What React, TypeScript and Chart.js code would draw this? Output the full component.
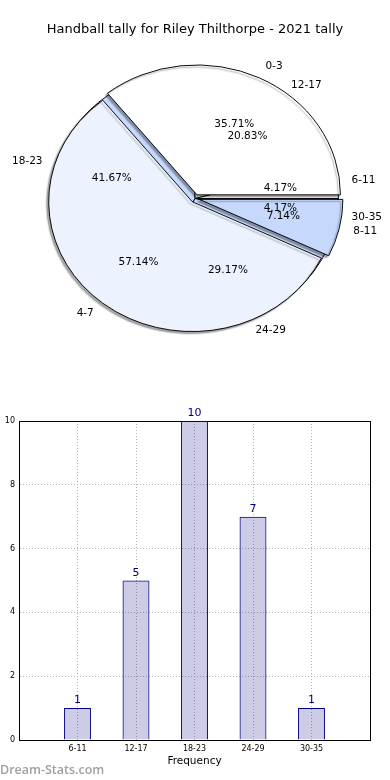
import React, { useEffect, useRef } from 'react';
import { Chart, registerables } from 'chart.js';

Chart.register(...registerables);
Chart.defaults.font.family = '"DejaVu Sans", sans-serif';

// ---------- data ----------
const TITLE = 'Handball tally for Riley Thilthorpe - 2021 tally';
const pieALabels = ['0-3', '4-7', '8-11'];
const pieAValues = [5, 8, 1];
const pieBLabels = ['6-11', '12-17', '18-23', '24-29', '30-35'];
const pieBValues = [1, 5, 10, 7, 1];
const barCategories = ['6-11', '12-17', '18-23', '24-29', '30-35'];
const barValues = [1, 5, 10, 7, 1];
const yTicks = [0, 2, 4, 6, 8, 10];
const xAxisTitle = 'Frequency';
const yAxisTitle = 'Number of Games';
const WATERMARK = 'Dream-Stats.com';

// ---------- styles ----------
const pieAColors = ['#ffffff', '#ecf2fe', '#c6d9fd'];
const pieBColors = ['#ffffff', '#ffffff', '#c6d9fd', '#c6d9fd', '#ffffff'];
const EXPLODE_PX = 4.5;
const SY = 0.905;
const RADIUS = 143.5;

function pieCenter(chart: any) {
  const a = chart.chartArea;
  return { x: (a.left + a.right) / 2, y: (a.top + a.bottom) / 2 };
}

function drawPieLabels(ctx: CanvasRenderingContext2D, chart: any) {
  const meta = chart.getDatasetMeta(0);
  const ds = chart.data.datasets[0].data as number[];
  const labels = chart.data.labels as string[];
  const total = ds.reduce((a, b) => a + b, 0);
  const cen = pieCenter(chart);
  ctx.save();
  ctx.fillStyle = '#000';
  ctx.font = '10.5px "DejaVu Sans"';
  ctx.textBaseline = 'middle';
  meta.data.forEach((el: any, i: number) => {
    const a = (el.startAngle + el.endAngle) / 2;
    const R = el.outerRadius;
    const c = Math.cos(a);
    const s = Math.sin(a);
    const ex = el.x;
    const ey = cen.y + (el.y - cen.y) * SY;
    ctx.textAlign = 'center';
    ctx.fillText(((ds[i] / total) * 100).toFixed(2) + '%', ex + 0.6 * R * c, ey + SY * 0.6 * R * s);
    ctx.textAlign = c > 0 ? 'left' : 'right';
    ctx.fillText(labels[i], ex + 1.1 * R * c, ey + SY * 1.1 * R * s);
  });
  ctx.restore();
}

const ellipsePlugin = {
  id: 'pieEllipse',
  afterDatasetUpdate(chart: any, _args: any, opts: any) {
    const explode = (opts && opts.explode) || 0;
    if (!explode) return;
    chart.getDatasetMeta(0).data.forEach((el: any) => {
      const a = (el.startAngle + el.endAngle) / 2;
      el.x += Math.cos(a) * explode;
      el.y += Math.sin(a) * explode;
    });
  },
  beforeDatasetsDraw(chart: any, _args: any, opts: any) {
    const cen = pieCenter(chart);
    const ctx = chart.ctx;
    ctx.save();
    ctx.translate(cen.x, cen.y);
    ctx.scale(1, SY);
    ctx.translate(-cen.x, -cen.y);
    if (opts && opts.shadow) {
      ctx.shadowColor = 'rgba(0,0,0,0.35)';
      ctx.shadowOffsetX = -2;
      ctx.shadowOffsetY = 2;
      ctx.shadowBlur = 1.5;
    }
  },
  afterDatasetsDraw(chart: any) {
    chart.ctx.restore();
  },
};

function pieConfig(labels: string[], values: number[], colors: string[], isTop: boolean, extraPlugins: any[]) {
  return {
    type: 'pie' as const,
    data: {
      labels: [...labels].reverse(),
      datasets: [
        {
          data: [...values].reverse(),
          backgroundColor: [...colors].reverse(),
          borderColor: '#000',
          borderWidth: 1,
          clip: false,
        },
      ],
    },
    options: {
      responsive: false,
      animation: false,
      events: [],
      rotation: 90,
      radius: RADIUS,
      layout: { padding: { top: 0, left: 0, right: 0, bottom: 30.6 } },
      plugins: {
        legend: { display: false },
        tooltip: { enabled: false },
        title: {
          display: true,
          text: TITLE,
          color: isTop ? '#000' : 'rgba(0,0,0,0)',
          font: { size: 13, weight: 'normal' },
          padding: { top: 22, bottom: 10 },
        },
        pieEllipse: { shadow: isTop, explode: isTop ? EXPLODE_PX : 0 },
      },
    },
    plugins: [ellipsePlugin, ...extraPlugins],
  };
}

const barValuePlugin = {
  id: 'barValues',
  afterDatasetsDraw(chart: any) {
    const ctx = chart.ctx;
    const meta = chart.getDatasetMeta(0);
    const data = chart.data.datasets[0].data;
    ctx.save();
    ctx.fillStyle = '#000080';
    ctx.font = '11px "DejaVu Sans"';
    ctx.textAlign = 'center';
    ctx.textBaseline = 'bottom';
    meta.data.forEach((el: any, i: number) => {
      const v = data[i];
      if (v === null || v === undefined) return;
      ctx.fillText(String(v), el.x, el.y - 2);
    });
    ctx.restore();
  },
};

export default function App() {
  const pieBRef = useRef<HTMLCanvasElement>(null);
  const pieARef = useRef<HTMLCanvasElement>(null);
  const barRef = useRef<HTMLCanvasElement>(null);

  useEffect(() => {
    const under = new Chart(pieBRef.current as HTMLCanvasElement, pieConfig(pieBLabels, pieBValues, pieBColors, false, []) as any);
    const labelsPlugin = {
      id: 'pieLabels',
      afterDraw(chart: any) {
        drawPieLabels(chart.ctx, chart);
        drawPieLabels(chart.ctx, under);
      },
    };
    const top = new Chart(pieARef.current as HTMLCanvasElement, pieConfig(pieALabels, pieAValues, pieAColors, true, [labelsPlugin]) as any);

    const gridColor = '#b4b4b4';
    const bar = new Chart(barRef.current as HTMLCanvasElement, {
      type: 'bar',
      data: {
        labels: ['', ...barCategories, ''],
        datasets: [
          {
            data: [null, ...barValues, null],
            backgroundColor: 'rgba(0,0,128,0.2)',
            borderColor: '#000080',
            borderWidth: 1,
            barPercentage: 0.46,
            categoryPercentage: 1,
          },
        ],
      },
      options: {
        responsive: false,
        animation: false,
        events: [],
        layout: { padding: { top: 41, right: 20, left: 0, bottom: 0 } },
        plugins: { legend: { display: false }, tooltip: { enabled: false } },
        scales: {
          x: {
            offset: false,
            grid: { color: gridColor, lineWidth: 1, drawTicks: false, offset: false },
            border: { color: '#000', width: 1, dash: [1, 2] },
            ticks: { font: { size: 8 }, color: '#000', padding: 4, autoSkip: false, maxRotation: 0 },
            title: { display: true, text: xAxisTitle, font: { size: 10.5 }, color: '#000', padding: { top: 2, bottom: 12 } },
            afterFit: (s: any) => { s.height = 40; },
          },
          y: {
            min: 0,
            max: 10,
            grid: { color: gridColor, lineWidth: 1, drawTicks: false },
            border: { color: '#000', width: 1, dash: [1, 2] },
            ticks: { font: { size: 8 }, color: '#000', padding: 4 },
            afterBuildTicks: (s: any) => { s.ticks = yTicks.map((v) => ({ value: v })); },
            title: { display: true, text: yAxisTitle, font: { size: 11 }, color: '#000', padding: { top: 0.5, bottom: 0 } },
            afterFit: (s: any) => { s.width = 29; },
          },
          x2: {
            type: 'category',
            position: 'top',
            grid: { drawOnChartArea: false, drawTicks: false },
            border: { color: '#000', width: 1 },
            ticks: { display: false },
            afterFit: (s: any) => { s.height = 0; },
          },
          y2: {
            type: 'linear',
            position: 'right',
            grid: { drawOnChartArea: false, drawTicks: false },
            border: { color: '#000', width: 1 },
            ticks: { display: false },
            afterFit: (s: any) => { s.width = 0; },
          },
        },
      } as any,
      plugins: [barValuePlugin],
    } as any);

    return () => {
      top.destroy();
      under.destroy();
      bar.destroy();
    };
  }, []);

  return (
    <div style={{ position: 'absolute', left: 0, top: 0, width: 390, height: 780, overflow: 'hidden', background: '#fff' }}>
      <canvas ref={pieBRef} width={390} height={380} style={{ position: 'absolute', left: 0, top: 0, width: 390, height: 380 }} />
      <canvas ref={pieARef} width={390} height={380} style={{ position: 'absolute', left: 0, top: 0, width: 390, height: 380 }} />
      <canvas ref={barRef} width={400} height={400} style={{ position: 'absolute', left: -10, top: 380, width: 400, height: 400 }} />
      <div style={{ position: 'absolute', left: 0, top: 761, font: '600 12.5px "Open Sans", sans-serif', color: '#a0a0a0', whiteSpace: 'nowrap' }}>
        {WATERMARK}
      </div>
    </div>
  );
}
